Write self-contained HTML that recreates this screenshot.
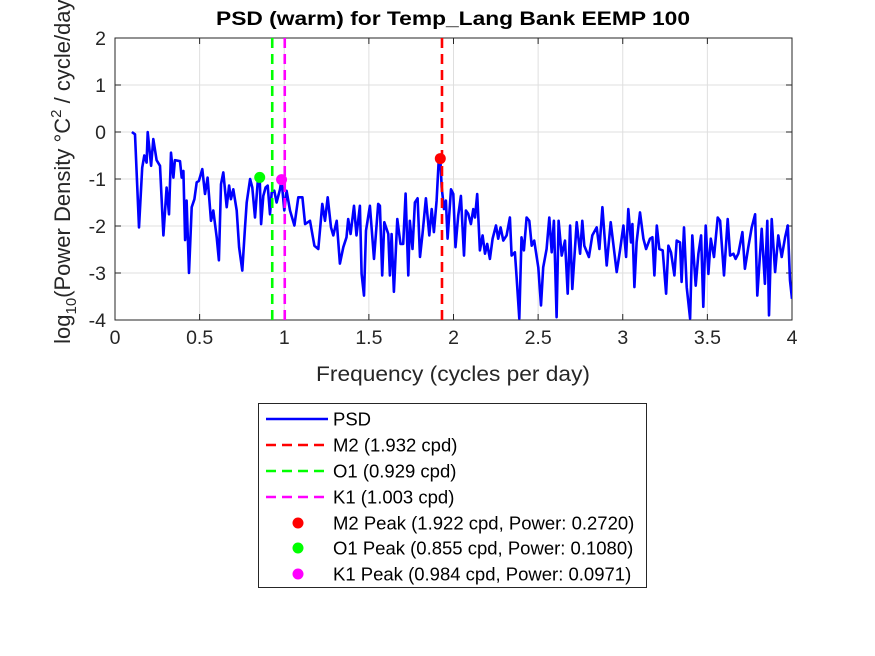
<!DOCTYPE html>
<html><head><meta charset="utf-8"><style>
body{margin:0;background:#fff;}
svg{display:block;font-family:"Liberation Sans",Arial,sans-serif;}
</style></head><body>
<svg id="chart" width="875" height="656">
<rect width="875" height="656" fill="#fff"/>
<g id="grid"></g>
<g id="axes"></g>
<g id="plot"></g>
<text x="453" y="25" text-anchor="middle" font-size="19" font-weight="bold" textLength="474" lengthAdjust="spacingAndGlyphs">PSD (warm) for Temp_Lang Bank EEMP 100</text>
<text x="453" y="381" text-anchor="middle" font-size="21" fill="#262626" textLength="274" lengthAdjust="spacingAndGlyphs">Frequency (cycles per day)</text>
<text transform="translate(70,168) rotate(-90)" text-anchor="middle" font-size="22" fill="#262626">log<tspan font-size="15" dy="6">10</tspan><tspan dy="-6">(Power Density °C</tspan><tspan font-size="15" dy="-9">2</tspan><tspan dy="9"> / cycle/day)</tspan></text>
<g id="legend"></g>
</svg>
<script>
const freqs=[0.10,0.118,0.142,0.161,0.173,0.187,0.193,0.213,0.226,0.246,0.266,0.286,0.305,0.319,0.331,0.345,0.354,0.384,0.394,0.404,0.414,0.423,0.437,0.453,0.469,0.483,0.496,0.516,0.532,0.547,0.567,0.581,0.601,0.614,0.626,0.64,0.66,0.674,0.685,0.699,0.719,0.733,0.752,0.768,0.778,0.798,0.811,0.827,0.843,0.855,0.863,0.876,0.89,0.902,0.916,0.926,0.941,0.955,0.975,0.984,1.0,1.014,1.034,1.06,1.083,1.107,1.123,1.152,1.178,1.201,1.225,1.241,1.257,1.276,1.29,1.31,1.329,1.349,1.368,1.378,1.392,1.412,1.427,1.447,1.457,1.471,1.483,1.506,1.53,1.555,1.565,1.579,1.591,1.615,1.624,1.634,1.648,1.668,1.687,1.703,1.717,1.733,1.742,1.758,1.772,1.788,1.802,1.817,1.837,1.857,1.871,1.884,1.9,1.912,1.922,1.93,1.944,1.955,1.965,1.985,1.999,2.012,2.028,2.044,2.062,2.073,2.087,2.103,2.117,2.127,2.14,2.156,2.172,2.186,2.199,2.215,2.231,2.251,2.264,2.278,2.294,2.314,2.333,2.343,2.363,2.373,2.389,2.402,2.416,2.432,2.448,2.462,2.477,2.501,2.517,2.53,2.55,2.566,2.58,2.593,2.609,2.621,2.639,2.659,2.675,2.689,2.702,2.728,2.748,2.761,2.773,2.8,2.82,2.846,2.862,2.88,2.905,2.929,2.964,2.984,3.004,3.02,3.033,3.049,3.057,3.069,3.082,3.102,3.122,3.138,3.161,3.175,3.187,3.201,3.216,3.236,3.256,3.27,3.285,3.305,3.319,3.338,3.348,3.362,3.378,3.398,3.411,3.431,3.447,3.463,3.476,3.49,3.506,3.52,3.539,3.561,3.575,3.598,3.62,3.634,3.654,3.667,3.683,3.707,3.722,3.742,3.762,3.782,3.795,3.821,3.84,3.854,3.864,3.88,3.9,3.919,3.939,3.959,3.975,3.988,4.0];
const logPower=[0,-0.05,-2.03,-0.76,-0.5,-0.65,0,-0.72,-0.15,-0.6,-0.72,-2.2,-1.18,-1.75,-0.44,-0.97,-0.6,-0.62,-0.97,-0.83,-2.3,-1.46,-3.0,-1.6,-1.43,-1.07,-1.04,-0.79,-1.32,-0.97,-1.89,-1.67,-2.24,-2.73,-1.11,-0.86,-1.6,-1.14,-1.43,-1.22,-1.67,-2.45,-2.95,-2.03,-1.5,-1.0,-1.18,-1.82,-1.07,-0.97,-1.96,-1.36,-1.18,-1.14,-1.75,-1.29,-1.25,-1.5,-1.22,-1.01,-1.67,-1.25,-1.67,-1.99,-1.39,-1.39,-1.96,-1.89,-2.42,-2.49,-1.53,-1.89,-1.39,-2.03,-2.2,-1.89,-2.8,-2.45,-2.24,-1.85,-2.17,-1.57,-2.2,-1.57,-3.02,-3.48,-2.1,-1.57,-2.7,-1.53,-1.57,-3.05,-1.92,-2.17,-3.05,-2.17,-3.4,-1.85,-2.38,-2.38,-1.31,-3.05,-1.89,-2.49,-1.5,-1.41,-2.66,-2.17,-1.41,-2.2,-1.64,-2.13,-1.46,-0.65,-0.565,-1.18,-1.64,-1.46,-2.27,-1.22,-1.32,-2.45,-1.78,-1.36,-2.63,-1.67,-1.74,-1.96,-1.64,-1.82,-1.32,-2.52,-2.2,-2.59,-2.38,-2.7,-2.27,-1.99,-2.27,-2.03,-2.31,-2.2,-1.82,-2.63,-2.56,-3.09,-3.97,-2.24,-2.52,-1.82,-1.89,-2.42,-2.31,-2.88,-3.69,-2.88,-2.49,-1.82,-2.56,-1.89,-3.94,-1.89,-2.63,-2.31,-3.44,-1.99,-3.34,-1.92,-2.59,-1.89,-2.42,-2.66,-2.2,-2.03,-2.49,-1.6,-2.84,-1.92,-2.98,-2.52,-1.99,-2.66,-1.64,-2.35,-1.96,-3.3,-2.35,-1.71,-2.27,-2.49,-2.27,-2.24,-3.05,-1.99,-2.49,-2.52,-3.44,-2.42,-2.56,-3.05,-2.31,-2.35,-3.19,-2.03,-3.3,-3.97,-2.2,-3.27,-2.59,-2.2,-3.72,-1.99,-3.02,-2.27,-2.66,-1.82,-1.89,-3.05,-1.85,-2.63,-2.59,-2.7,-2.59,-2.13,-2.91,-2.45,-2.03,-1.75,-3.48,-2.06,-3.23,-1.89,-3.9,-1.85,-2.98,-2.2,-2.66,-2.24,-1.99,-3.16,-3.55];
const xTicks=[0,0.5,1,1.5,2,2.5,3,3.5,4];
const xTickLabels=["0","0.5","1","1.5","2","2.5","3","3.5","4"];
const yTicks=[2,1,0,-1,-2,-3,-4];
const yTickLabels=["2","1","0","-1","-2","-3","-4"];
const constituentNames=["M2","O1","K1"];
const constituentFreqs=[1.932,0.929,1.003];
const constituentColors=["#ff0000","#00ff00","#ff00ff"];
const peakFreqs=[1.922,0.855,0.984];
const peakPowers=[0.2720,0.1080,0.0971];

const L=115,R=792,T=38,B=320;
const xS=f=>L+(f-0)/(4-0)*(R-L);
const yS=v=>T+(2-v)/(2-(-4))*(B-T);
const NS="http://www.w3.org/2000/svg";
function mk(tag,attrs,parent){const e=document.createElementNS(NS,tag);for(const k in attrs)e.setAttribute(k,attrs[k]);parent.appendChild(e);return e;}
const grid=document.getElementById('grid'),axes=document.getElementById('axes'),plot=document.getElementById('plot'),leg=document.getElementById('legend');
mk('rect',{x:L,y:T,width:R-L,height:B-T,fill:'#fff'},grid);
xTicks.forEach((t,i)=>{
  const gl=mk('line',{x1:xS(t),x2:xS(t),y1:T,y2:B,stroke:'#dfdfdf','stroke-width':1},grid);
  
  mk('line',{x1:xS(t),x2:xS(t),y1:B,y2:B-6,stroke:'#262626'},axes);
  mk('line',{x1:xS(t),x2:xS(t),y1:T,y2:T+6,stroke:'#262626'},axes);
  const tx=mk('text',{x:xS(t),y:B+24,'text-anchor':'middle','font-size':19.5,fill:'#262626'},axes);
  tx.textContent=xTickLabels[i];
  
  
});
yTicks.forEach((t,i)=>{
  const gl=mk('line',{x1:L,x2:R,y1:yS(t),y2:yS(t),stroke:'#dfdfdf','stroke-width':1},grid);
  
  mk('line',{x1:L,x2:L+6,y1:yS(t),y2:yS(t),stroke:'#262626'},axes);
  mk('line',{x1:R,x2:R-6,y1:yS(t),y2:yS(t),stroke:'#262626'},axes);
  const tx=mk('text',{x:L-9,y:yS(t)+7,'text-anchor':'end','font-size':19.5,fill:'#262626'},axes);
  tx.textContent=yTickLabels[i];
  
  
});
mk('rect',{x:L,y:T,width:R-L,height:B-T,fill:'none',stroke:'#262626','stroke-width':1},axes);
const clip=mk('clipPath',{id:'pc'},plot);mk('rect',{x:L,y:T,width:R-L,height:B-T},clip);
const pts=freqs.map((f,i)=>xS(f).toFixed(1)+','+yS(logPower[i]).toFixed(1)).join(' ');
const line=mk('polyline',{points:pts,fill:'none',stroke:'#0000ff','stroke-width':2.6,'stroke-linejoin':'round','clip-path':'url(#pc)'},plot);


constituentFreqs.forEach((f,i)=>{
  const l=mk('line',{x1:xS(f),x2:xS(f),y1:T,y2:B,stroke:constituentColors[i],'stroke-width':2.6,'stroke-dasharray':'10,6'},plot);
  
  
});
peakFreqs.forEach((f,i)=>{
  const c=mk('circle',{cx:xS(f),cy:yS(Math.log10(peakPowers[i])),r:5.5,fill:constituentColors[i]},plot);
  
  
});
mk('rect',{x:258.5,y:403.5,width:388,height:184,fill:'#fff',stroke:'#262626','stroke-width':1},leg);
const rowY=[419,445,471,497,523,548,574];
const labels=["PSD"].concat(constituentNames.map((n,i)=>n+" ("+constituentFreqs[i].toFixed(3)+" cpd)"),constituentNames.map((n,i)=>n+" Peak ("+peakFreqs[i].toFixed(3)+" cpd, Power: "+peakPowers[i].toFixed(4)+")"));
labels.forEach((lab,i)=>{
  const y=rowY[i];
  if(i===0){mk('line',{x1:266,x2:328,y1:y,y2:y,stroke:'#0000ff','stroke-width':2.6},leg);}
  else if(i<4){mk('line',{x1:266,x2:328,y1:y,y2:y,stroke:constituentColors[i-1],'stroke-width':2.6,'stroke-dasharray':'10,6'},leg);}
  else{mk('circle',{cx:298,cy:y,r:5.5,fill:constituentColors[i-4]},leg);}
  const t=mk('text',{x:333,y:y+6.5,'font-size':18.5,fill:'#000'},leg);
  t.textContent=lab;
  
  
});
</script>
</body></html>
